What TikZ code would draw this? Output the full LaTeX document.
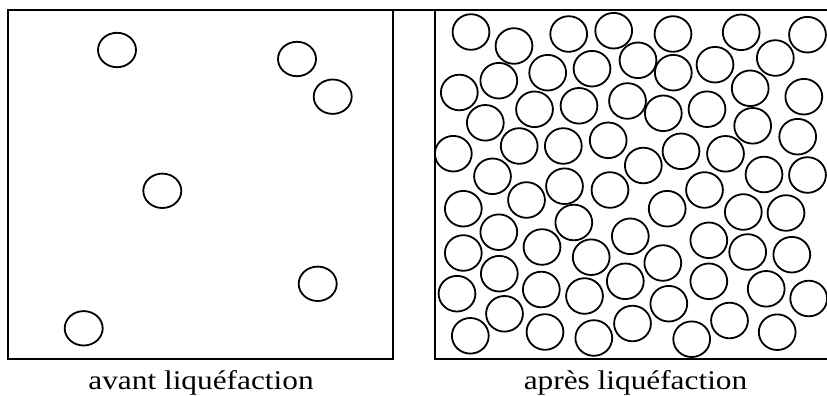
\documentclass[tikz,border=0pt]{standalone}
\usepackage{fontspec}
\setmainfont{Liberation Serif}
\begin{document}
\begin{tikzpicture}[x=1pt,y=-1pt,
  frame/.style={line width=2pt},
  grainL/.style={line width=1.8pt, x radius=19, y radius=17.2},
  grainR/.style={line width=1.8pt, x radius=18.4, y radius=17.8},
  caption/.style={font=\fontsize{27}{32}\selectfont, xscale=1.16, anchor=base, inner sep=0pt}]
\clip (0,0) rectangle (827,396);
\useasboundingbox (0,0) rectangle (827,396);
% boxes
\draw[frame] (8,10.5) rectangle (392.7,359.3);
\draw[frame] (435,10.5) rectangle (845,359.3);
\draw[frame] (392.7,10.5) -- (435,10.5);
% before liquefaction
\foreach \x/\y in {117/50, 297/59, 332.7/96.7, 162.3/190.8, 317.7/283.8, 83.7/328.3}
  \draw[grainL] (\x,\y) ellipse [];
% after liquefaction
\foreach \x/\y in {471/32, 514/46, 568.7/34, 613.7/30.7, 638/60.3, 498.8/80.7, 547.7/72.7,
  592/68.7, 459.3/92.5, 534.5/109.3, 579/105.8, 627.5/101, 485.3/122.8, 453.3/153.7,
  519.2/146, 563.3/146, 608.2/140.3, 492.5/176.3, 526.5/200, 564.5/186.2, 610/190,
  673/34, 741.2/32.3, 807.5/34.7, 673.3/72.7, 715/64.7, 775.3/58, 663.3/113.3,
  707/109.2, 750.2/88.3, 803.8/96.7, 752.7/125.8, 797.7/136.7, 643.3/165.5, 681/151.3,
  725.5/153.8, 764/174.5, 807.5/175, 704.5/190, 463.3/208.7, 498.8/232.2, 573.8/222.5,
  630.3/236.3, 463.3/253, 542/247, 591.2/257.2, 499.3/273.7, 625.3/281.3, 457/293.7,
  541.3/289.5, 584.5/296, 504.5/313.8, 632.5/323.5, 470.3/335.8, 545/332, 593.8/338,
  667.2/208.7, 743.3/212, 786/213, 708.8/240.3, 747.7/252, 791.8/254.7, 662.8/263,
  708.8/281.3, 766.2/288.8, 808.7/298.5, 668.8/303.7, 729.5/320.5, 691.7/339.2, 777.2/332.2}
  \draw[grainR] (\x,\y) ellipse [];
% captions
\node[caption] (avant) at (201,389.3) {avant liquéfaction};
\node[caption] (apres) at (635.5,389.3) {après liquéfaction};
\end{tikzpicture}
\end{document}
